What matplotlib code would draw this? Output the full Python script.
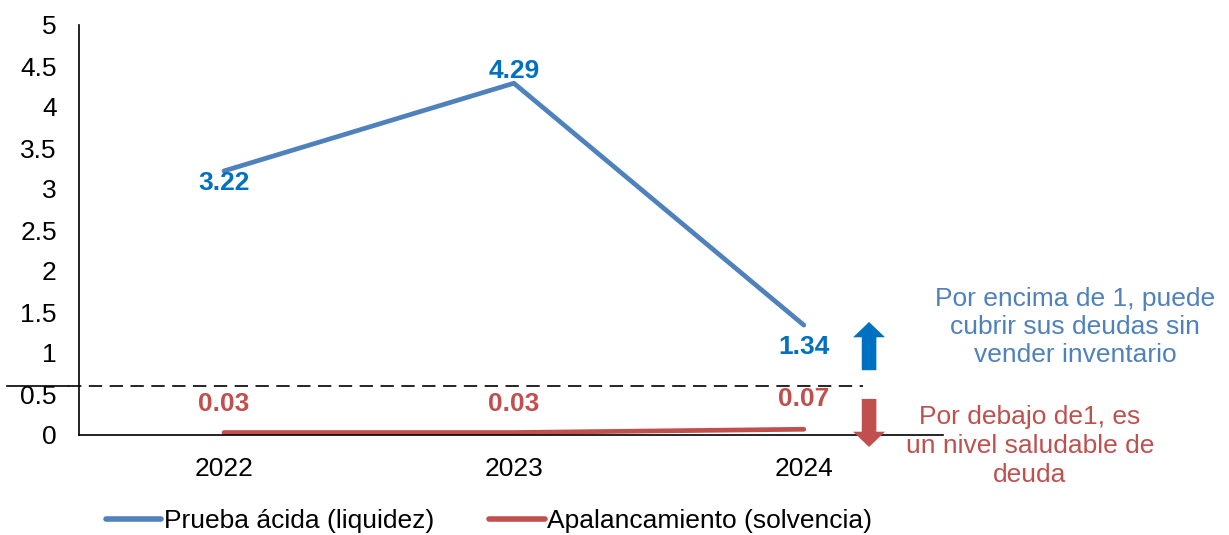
import matplotlib.pyplot as plt

plt.rcParams['font.family'] = ['Liberation Sans', 'DejaVu Sans']

# Values per year
years = ['2022', '2023', '2024']
prueba_acida = [3.22, 4.29, 1.34]
apalancamiento = [0.03, 0.03, 0.07]
umbral = 0.6
y_ticks = [0, 0.5, 1, 1.5, 2, 2.5, 3, 3.5, 4, 4.5, 5]
y_tick_labels = ['0', '0.5', '1', '1.5', '2', '2.5', '3', '3.5', '4', '4.5', '5']

blue = '#4F81BD'
red = '#C0504D'
label_blue = '#0070C0'

fig = plt.figure(figsize=(12.29, 5.35), dpi=100)
ax = fig.add_axes([79 / 1229, 100 / 535, 864 / 1229, 410 / 535])

x = list(range(len(years)))
ax.plot(x, prueba_acida, color=blue, lw=3.4, solid_capstyle='round',
        label='Prueba ácida (liquidez)')
ax.plot(x, apalancamiento, color=red, lw=3.4, solid_capstyle='round',
        label='Apalancamiento (solvencia)')

# data labels
offsets_blue = [-9, 9, -16]
for xi, v, off in zip(x, prueba_acida, offsets_blue):
    ax.annotate(f'{v:.2f}', (xi, v), xytext=(0, off), textcoords='offset points',
                ha='center', va='center', fontsize=19, fontweight='bold', color=label_blue)
offsets_red = [20.5, 20.5, 22]
for xi, v, off in zip(x, apalancamiento, offsets_red):
    ax.annotate(f'{v:.2f}', (xi, v), xytext=(0, off), textcoords='offset points',
                ha='center', va='center', fontsize=19, fontweight='bold', color=red)

ax.set_xlim(-0.5, 2.48)
ax.set_ylim(0, 5)
ax.set_xticks(x)
ax.set_xticklabels(years)
ax.set_yticks(y_ticks)
ax.set_yticklabels(y_tick_labels)
ax.tick_params(length=0, labelsize=19, pad=16)
for s in ['top', 'right']:
    ax.spines[s].set_visible(False)
for s in ['left', 'bottom']:
    ax.spines[s].set_linewidth(1.2)
    ax.spines[s].set_color('black')

# threshold line: solid lead-in, then dashes
ax.plot([-0.747, -0.538], [umbral, umbral], color='black', lw=1.2, clip_on=False)
ax.plot([-0.538, 2.205], [umbral, umbral], ls=(0, (8, 4.5)), color='black', lw=1.2,
        clip_on=False)

# arrows
style = 'simple,head_length=1.1,head_width=2.3,tail_width=1.05'
ax.annotate('', xy=(2.225, 1.378), xytext=(2.225, 0.79), annotation_clip=False,
            arrowprops=dict(arrowstyle=style, color=label_blue, mutation_scale=10,
                            lw=0, shrinkA=0, shrinkB=0))
ax.annotate('', xy=(2.225, -0.146), xytext=(2.225, 0.44), annotation_clip=False,
            arrowprops=dict(arrowstyle=style, color=red, mutation_scale=10,
                            lw=0, shrinkA=0, shrinkB=0))

fig.text(1075 / 1229, 1 - 327 / 535,
         'Por encima de 1, puede\ncubrir sus deudas sin\nvender inventario',
         ha='center', va='center', fontsize=19, color=blue, linespacing=1.22)
fig.text(1030 / 1229, 1 - 446 / 535,
         'Por debajo de1, es\nun nivel saludable de\ndeuda',
         ha='center', va='center', fontsize=19, color=red, linespacing=1.28)

leg = fig.legend(loc='center', bbox_to_anchor=(489 / 1229, 14 / 535), ncol=2, frameon=False,
                 fontsize=19, handlelength=2.1, handletextpad=0.1, columnspacing=2.1)
for h in leg.get_lines():
    h.set_linewidth(4)

fig.savefig('out.png', dpi=100)
